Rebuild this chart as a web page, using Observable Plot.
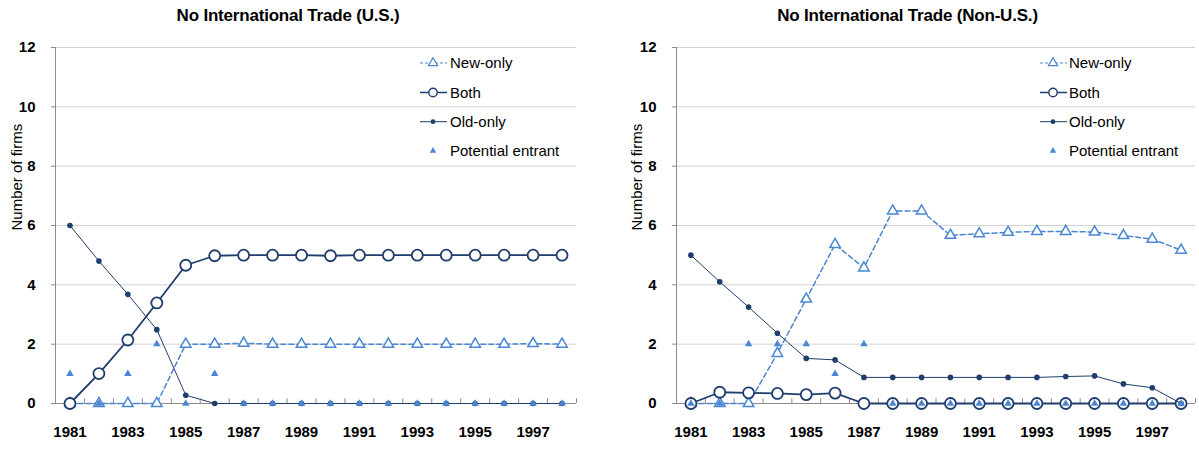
<!DOCTYPE html>
<html>
<head>
<meta charset="utf-8">
<script src="https://cdn.jsdelivr.net/npm/d3@7"></script>
<script src="https://cdn.jsdelivr.net/npm/@observablehq/plot@0.6"></script>
<style>
  html, body { margin: 0; padding: 0; background: #fff; }
  #wrap { position: relative; width: 1199px; height: 449px; overflow: hidden; font-family: "Liberation Sans", Arial, sans-serif; }
  .panel { position: absolute; top: 0; }
  .title { position: absolute; top: 7px; font-size: 17px; line-height: 17px; font-weight: bold; text-align: center; color: #000; letter-spacing: -0.2px; }
  .legend { position: absolute; top: 0; left: 0; pointer-events: none; }
</style>
</head>
<body>
<div id="wrap"></div>
<script>
// ---- data ----
const years = [1981,1982,1983,1984,1985,1986,1987,1988,1989,1990,1991,1992,1993,1994,1995,1996,1997,1998];
const xTickYears = [1981,1983,1985,1987,1989,1991,1993,1995,1997];
const yTicks = [0,2,4,6,8,10,12];
const seriesNames = ["New-only","Both","Old-only","Potential entrant"];
const panelTitles = ["No International Trade (U.S.)","No International Trade (Non-U.S.)"];
const yLabel = "Number of firms";

const usNewOnly   = [0,0,0,0,2.0,2.0,2.03,2.0,2.0,2.0,2.0,2.0,2.0,2.0,2.0,2.0,2.02,2.0];
const usBoth      = [0,1.01,2.14,3.39,4.66,4.98,5.0,5.0,5.0,4.98,5.0,5.0,5.0,5.0,5.0,5.0,5.0,5.0];
const usOldOnly   = [6,4.8,3.68,2.49,0.28,0,0,0,0,0,0,0,0,0,0,0,0,0];
const usPotential = [1,0,1,2,0,1,0,0,0,0,0,0,0,0,0,0,0,0];

const nonNewOnly   = [0,0,0,1.69,3.52,5.36,4.57,6.49,6.49,5.67,5.72,5.77,5.8,5.8,5.78,5.66,5.54,5.17];
const nonBoth      = [0,0.38,0.36,0.34,0.3,0.35,0,0,0,0,0,0,0,0,0,0,0,0];
const nonOldOnly   = [5,4.1,3.25,2.37,1.52,1.47,0.88,0.88,0.88,0.88,0.88,0.88,0.88,0.91,0.93,0.66,0.53,0];
const nonPotential = [0,0,2,2,2,1,2,0,0,0,0,0,0,0,0,0,0,0];

// ---- styles ----
const navy = "#1f3d6d";
const light = "#4a86d2";
const axisGray = "#8c8c8c";
const gridGray = "#d2d2d2";
const font = "Liberation Sans, Arial, sans-serif";

function chart(newOnly, both, oldOnly, potential, opts) {
  const boundaries = years.map(y => y + 0.5);
  return Plot.plot({
    width: opts.width, height: 449,
    marginLeft: opts.marginLeft, marginRight: opts.marginRight,
    marginTop: 47, marginBottom: 46,
    style: { fontFamily: font, background: "transparent", overflow: "visible" },
    x: { domain: [years[0] - 0.5, years[years.length - 1] + 0.5], axis: null },
    y: { domain: [yTicks[0], yTicks[yTicks.length - 1]], axis: null },
    marks: [
      Plot.gridY(yTicks.slice(1), { stroke: gridGray, strokeOpacity: 1, strokeWidth: 1 }),
      Plot.ruleY([yTicks[0]], { stroke: axisGray }),
      Plot.ruleX([years[0] - 0.5], { stroke: axisGray }),
      Plot.ruleX(boundaries, { x: d => d, y1: 0, y2: 0.16, stroke: axisGray }),
      Plot.axisY({ ticks: yTicks, tickSize: 4, tickPadding: 16, stroke: axisGray, fill: "#000",
                   fontSize: 15, fontWeight: "bold", label: null, tickFormat: d => String(d) }),
      // x tick labels (every other year)
      Plot.text(xTickYears, { x: d => d, text: d => String(d), frameAnchor: "bottom", dy: 33,
                   fontSize: 15, fontWeight: "bold", fill: "#000" }),
      Plot.text([yLabel], { frameAnchor: "left", rotate: -90, dx: opts.labelDx, dy: 5,
                   fontSize: 15, fill: "#000", text: d => d }),
      // New-only
      Plot.line(years, { x: years, y: newOnly, stroke: light, strokeWidth: 1.5, strokeDasharray: "5,3" }),
      Plot.dot(years, { x: years, y: newOnly, symbol: "triangle", r: 3.9, stroke: light, strokeWidth: 1.5, fill: "#fff" }),
      // Both
      Plot.line(years, { x: years, y: both, stroke: navy, strokeWidth: 1.8 }),
      Plot.dot(years, { x: years, y: both, r: 5.5, stroke: navy, strokeWidth: 1.8, fill: "#fff" }),
      // Old-only
      Plot.line(years, { x: years, y: oldOnly, stroke: navy, strokeWidth: 1 }),
      Plot.dot(years, { x: years, y: oldOnly, r: 2.8, fill: navy, stroke: "none" }),
      // Potential entrant
      Plot.dot(years, { x: years, y: potential, symbol: "triangle", r: 2.8, fill: light, stroke: "none" })
    ]
  });
}

const wrap = document.getElementById("wrap");

const panels = [
  { left: 0, width: 600, marginLeft: 55, marginRight: 24, labelDx: -38,
    data: [usNewOnly, usBoth, usOldOnly, usPotential], titleLeft: 0, titleWidth: 576, legendX: 433, textX: 450 },
  { left: 600, width: 599, marginLeft: 76, marginRight: 4, labelDx: -39,
    data: [nonNewOnly, nonBoth, nonOldOnly, nonPotential], titleLeft: 620, titleWidth: 575, legendX: 1053, textX: 1069 }
];

panels.forEach((p, i) => {
  const div = document.createElement("div");
  div.className = "panel";
  div.style.left = p.left + "px";
  div.appendChild(chart(...p.data, p));
  wrap.appendChild(div);

  const t = document.createElement("div");
  t.className = "title";
  t.style.left = p.titleLeft + "px";
  t.style.width = p.titleWidth + "px";
  t.textContent = panelTitles[i];
  wrap.appendChild(t);
});

// ---- legends ----
const leg = d3.select(wrap).append("svg").attr("class", "legend").attr("width", 1199).attr("height", 449);
const rowY = [63, 92.5, 121.7, 150.8];
panels.forEach(p => {
  const g = leg.append("g").attr("font-family", font).attr("font-size", 15);
  seriesNames.forEach((name, k) => {
    const y = rowY[k];
    const cx = p.legendX;
    if (k === 0) {
      g.append("line").attr("x1", cx - 13).attr("x2", cx + 14).attr("y1", y).attr("y2", y)
        .attr("stroke", light).attr("stroke-width", 1).attr("stroke-dasharray", "3,2");
      g.append("path").attr("d", d3.symbol(d3.symbolTriangle, Math.PI * 3.4 * 3.4)())
        .attr("transform", `translate(${cx},${y})`).attr("fill", "#fff").attr("stroke", light).attr("stroke-width", 1.2);
    } else if (k === 1) {
      g.append("line").attr("x1", cx - 13).attr("x2", cx + 14).attr("y1", y).attr("y2", y)
        .attr("stroke", navy).attr("stroke-width", 1.5);
      g.append("circle").attr("cx", cx).attr("cy", y).attr("r", 4.2).attr("fill", "#fff").attr("stroke", navy).attr("stroke-width", 1.4);
    } else if (k === 2) {
      g.append("line").attr("x1", cx - 13).attr("x2", cx + 14).attr("y1", y).attr("y2", y)
        .attr("stroke", navy).attr("stroke-width", 1);
      g.append("circle").attr("cx", cx).attr("cy", y).attr("r", 2.4).attr("fill", navy);
    } else {
      g.append("path").attr("d", d3.symbol(d3.symbolTriangle, Math.PI * 2.4 * 2.4)())
        .attr("transform", `translate(${cx},${y})`).attr("fill", light);
    }
    g.append("text").attr("x", p.textX).attr("y", y).attr("dy", "0.35em").attr("fill", "#000").text(name);
  });
});
</script>
</body>
</html>
